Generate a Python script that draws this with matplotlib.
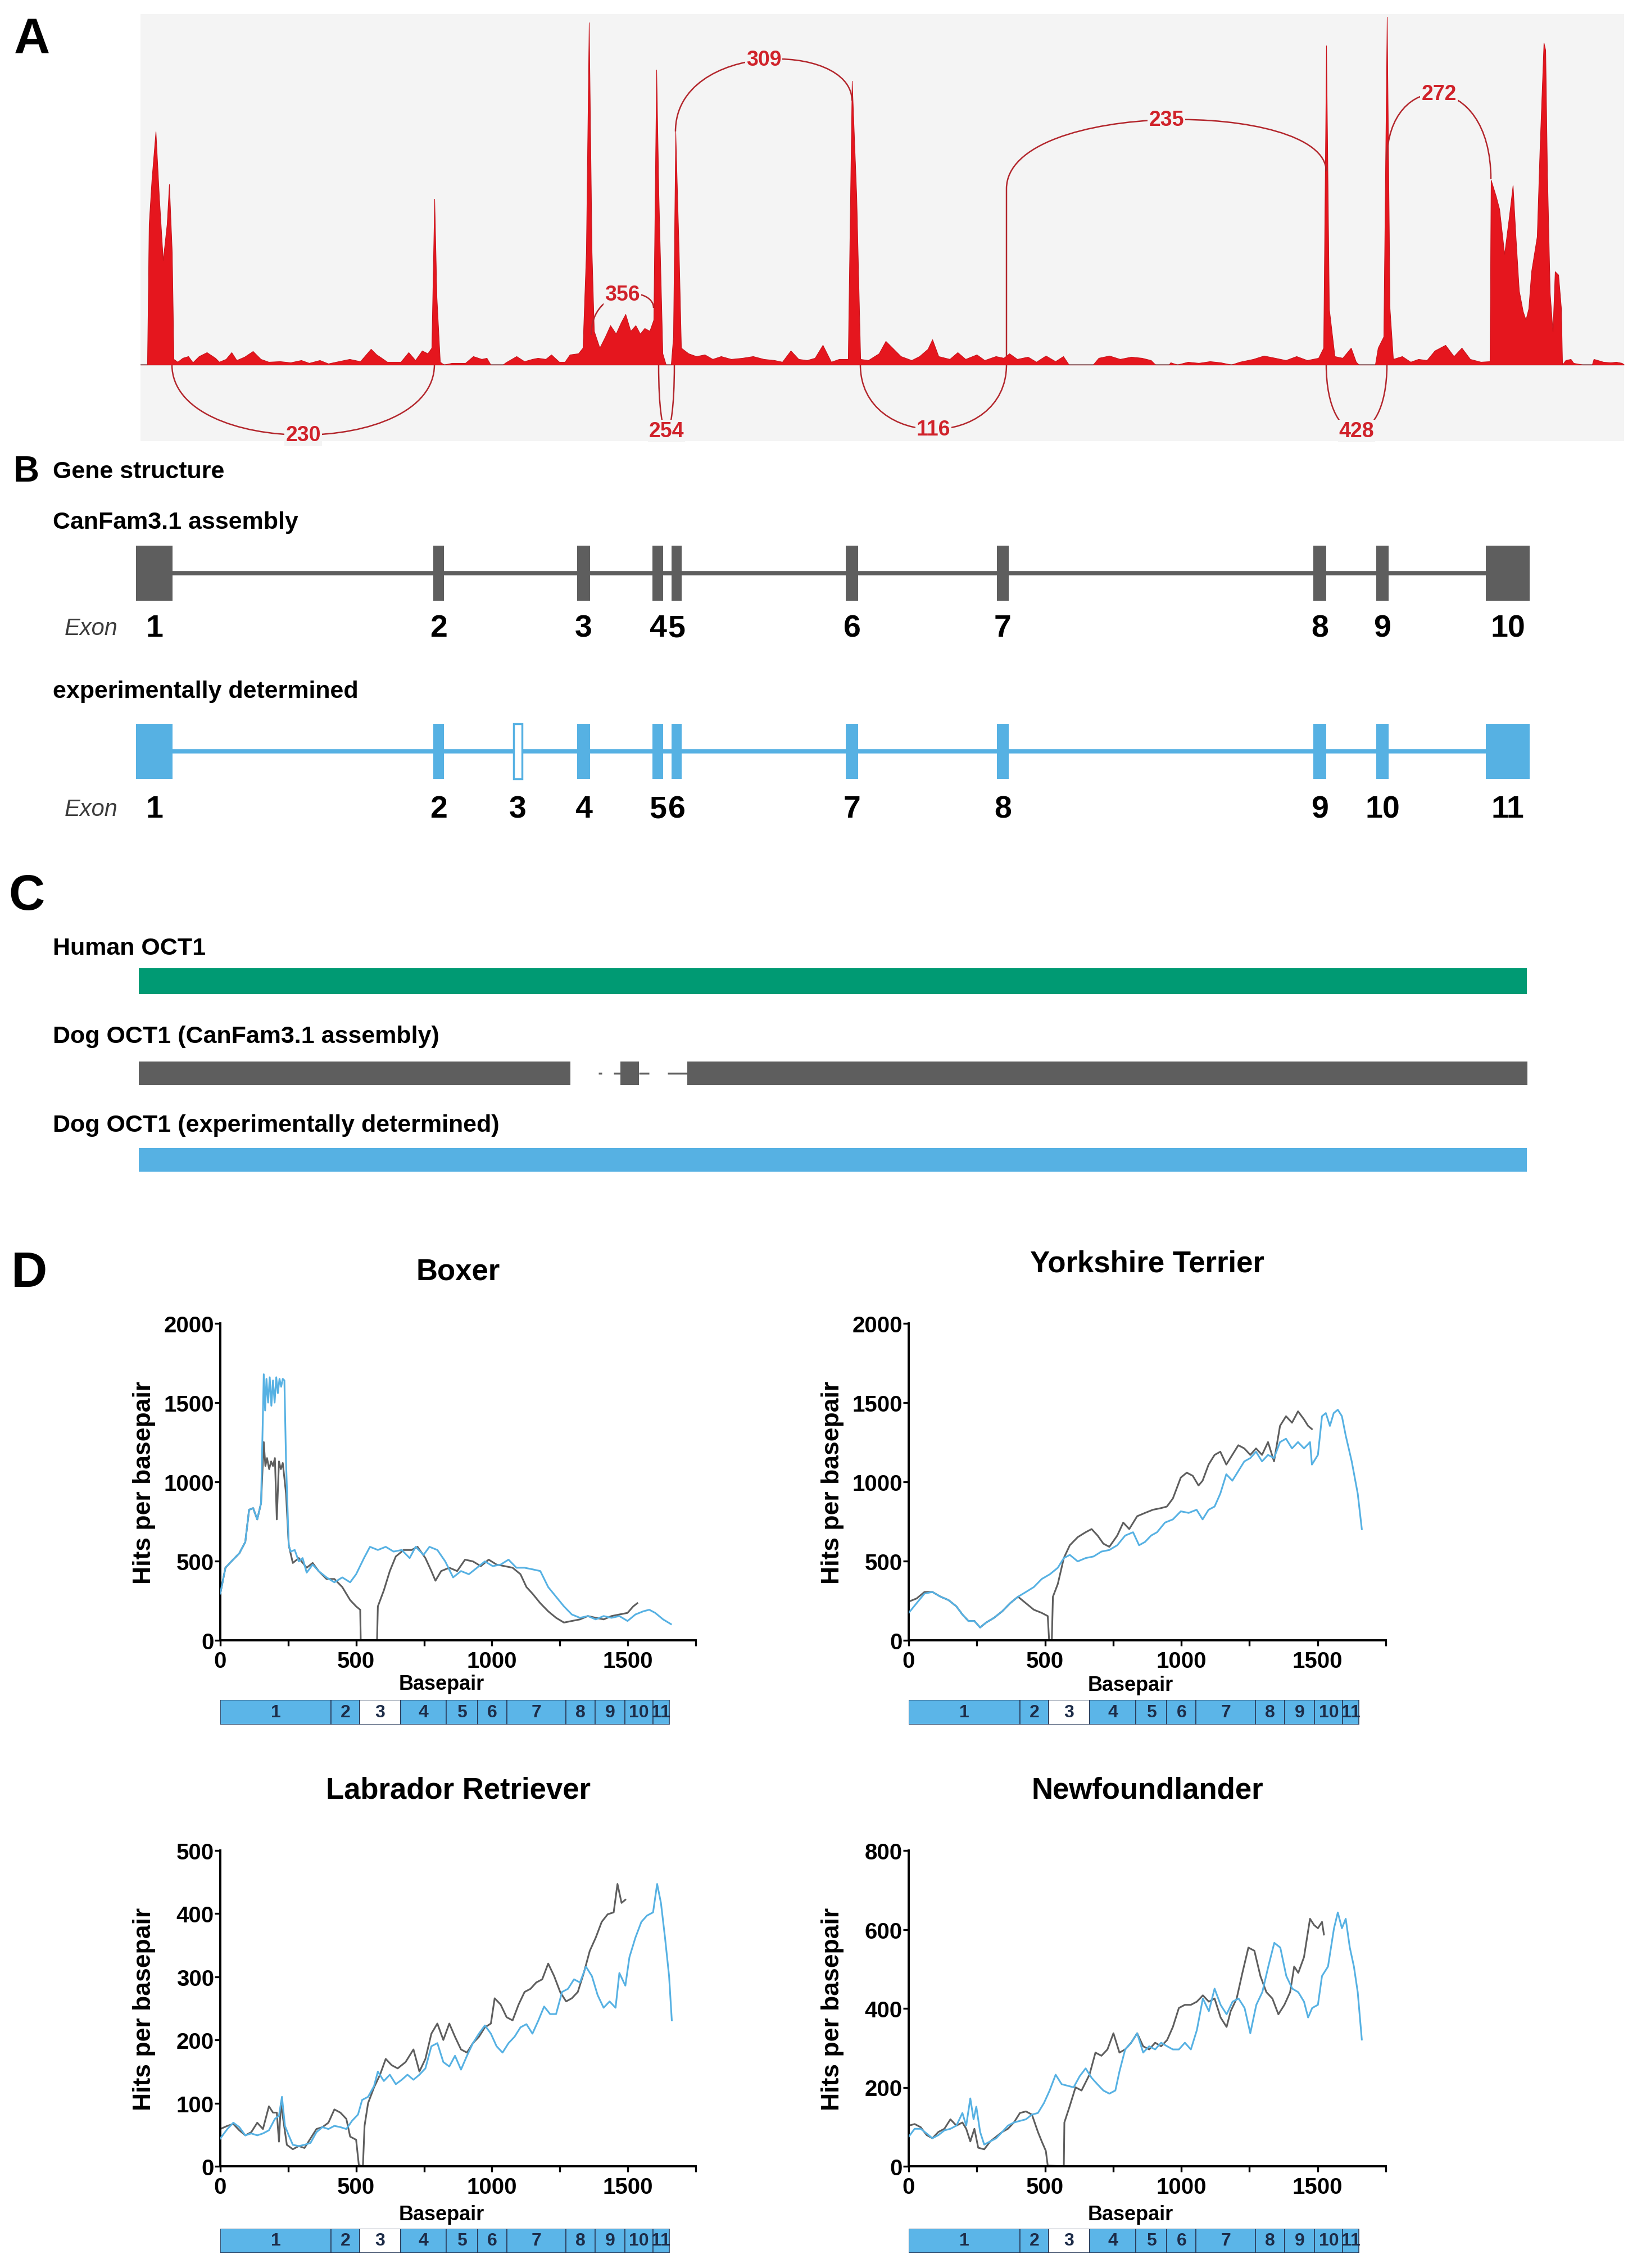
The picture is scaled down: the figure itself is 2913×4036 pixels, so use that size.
import matplotlib
matplotlib.use("Agg")
import matplotlib.pyplot as plt
from matplotlib.path import Path
from matplotlib.patches import PathPatch
from matplotlib.ticker import MultipleLocator
import numpy as np

W, H = 2913, 4037
plt.rcParams['font.family'] = ['Liberation Sans', 'DejaVu Sans']
plt.rcParams['font.weight'] = 'bold'
plt.rcParams['axes.labelweight'] = 'bold'
NARROW = ['Liberation Sans Narrow', 'Liberation Sans', 'DejaVu Sans']

RED = '#e5161e'
ARC = '#b3262c'
GRAY = '#5e5e5e'
BLUE = '#56b1e3'
GREEN = '#009a73'

# ---------------- data ----------------
# A: read coverage along the OCT1 locus (position in plot units, depth in plot units)
cov_pos = [250, 262, 265, 270, 277, 283, 290, 297, 301, 306, 309,
           316, 325, 335, 343, 354, 368, 383, 390, 402, 412, 421, 435, 450, 464, 478, 498,
           517, 536, 550, 569, 584, 598, 622, 641, 660, 670, 679, 689, 713, 727, 739, 751,
           761, 768, 773, 777, 783, 790, 804, 828, 842, 857, 866, 873, 895, 900, 919, 933,
           947, 957, 971, 981, 995, 1005, 1014, 1029, 1037, 1043, 1048, 1053, 1057, 1067,
           1077, 1086, 1096, 1105, 1113, 1122, 1131, 1139, 1147, 1156, 1163, 1168, 1172,
           1179, 1185, 1194, 1198, 1202, 1208, 1212, 1225, 1239, 1254, 1268, 1283, 1301,
           1321, 1340, 1359, 1378, 1392, 1407, 1421, 1436, 1450, 1464, 1479, 1493, 1509,
           1516, 1524, 1531, 1545, 1564, 1576, 1588, 1603, 1622, 1636, 1651, 1659, 1670,
           1690, 1704, 1718, 1738, 1752, 1772, 1786, 1796, 1810, 1829, 1844, 1861, 1878,
           1892, 1902, 1945, 1955, 1974, 1993, 2013, 2032, 2048, 2056, 2080, 2083, 2095,
           2114, 2133, 2153, 2172, 2191, 2206, 2230, 2249, 2269, 2288, 2307, 2326, 2346,
           2355, 2360, 2365, 2375, 2389, 2404, 2413, 2418, 2447, 2452, 2462, 2468, 2473,
           2479, 2495, 2510, 2524, 2539, 2553, 2572, 2587, 2601, 2616, 2635, 2651, 2653,
           2662, 2668, 2677, 2685, 2692, 2697, 2703, 2710, 2715, 2720, 2725, 2735, 2740,
           2747, 2750, 2753, 2758, 2763, 2767, 2773, 2778, 2780, 2786, 2795, 2800, 2816,
           2833, 2836, 2843, 2853, 2866, 2876, 2886, 2890]
cov_depth = [0, 0, 250, 330, 415, 300, 186, 250, 321, 200, 10,
             5, 12, 15, 4, 15, 22, 12, 5, 10, 22, 8, 14, 24, 10, 5, 6,
             4, 8, 3, 8, 2, 5, 10, 6, 28, 18, 12, 5, 5, 22, 8, 25,
             20, 30, 295, 120, 5, 0, 3, 3, 15, 10, 12, 0, 0, 4, 15, 6,
             10, 12, 10, 18, 5, 5, 18, 20, 30, 200, 609, 200, 60, 30,
             50, 70, 55, 75, 90, 60, 70, 55, 65, 60, 80, 525, 300,
             20, 0, 0, 50, 415, 200, 30, 20, 15, 18, 10, 15, 10,
             12, 15, 10, 8, 5, 25, 10, 8, 12, 35, 5, 10, 10,
             505, 300, 10, 8, 20, 42, 30, 15, 8, 15, 28, 45, 15,
             10, 22, 10, 18, 8, 15, 12, 20, 10, 14, 5, 16, 6,
             15, 0, 0, 12, 16, 10, 14, 12, 8, 0, 0, 4, 0,
             5, 3, 6, 4, 0, 5, 10, 16, 12, 8, 15, 8, 12,
             30, 568, 100, 15, 12, 30, 5, 0, 0, 30, 50, 619, 100,
             10, 15, 5, 10, 8, 25, 35, 15, 30, 10, 5, 6, 329,
             300, 277, 197, 260, 319, 230, 132, 95, 80, 100, 166, 228, 384,
             573, 560, 350, 128, 59, 166, 160, 100, 0, 8, 10, 3, 0,
             0, 10, 8, 5, 4, 5, 3, 0]

# A: splice junctions (sashimi arcs)
junc_start = [306, 1052, 1172, 1202, 1531, 1791, 2360, 2468]
junc_end = [773, 1163, 1200, 1516, 1791, 2360, 2468, 2653]
junc_reads = [230, 356, 254, 309, 116, 235, 428, 272]
junc_apex = [-125, 125, -118, 543, -115, 436, -118, 482]
junc_y0 = [0, 53, 0, 415, 0, 313, 0, 364]
junc_y1 = [0, 101, 0, 470, 0, 344, 0, 330]

# B: gene structure (exon start / end along the locus)
canfam_exon_start = [242, 771, 1027, 1161, 1195, 1505, 1774, 2337, 2449, 2644]
canfam_exon_end = [307, 790, 1050, 1180, 1213, 1527, 1795, 2360, 2471, 2722]
exp_exon_start = [242, 771, 914, 1027, 1161, 1195, 1505, 1774, 2337, 2449, 2644]
exp_exon_end = [307, 790, 929, 1050, 1180, 1213, 1527, 1795, 2360, 2471, 2722]
exp_exon_novel = [False, False, True] + [False] * 8

# C: protein alignment
protein_labels = ['Human OCT1', 'Dog OCT1 (CanFam3.1 assembly)',
                  'Dog OCT1 (experimentally determined)']
human_blocks = [(247, 2717)]
canfam_blocks = [(247, 1015), (1104, 1137), (1223, 2718)]
canfam_links = [(1065, 1071), (1092, 1104), (1137, 1155), (1188, 1223)]
exp_blocks = [(247, 2717)]

# D: coverage per basepair, two reference transcripts
breeds = ['Boxer', 'Yorkshire Terrier', 'Labrador Retriever', 'Newfoundlander']
exon_edges_bp = [0, 408, 513, 664, 832, 947, 1054, 1272, 1380, 1489, 1592, 1652]

boxer_blue_bp = [0, 19, 41, 70, 92, 106, 121, 136, 150, 160, 165, 170, 176, 182, 188, 194,
                 200, 206, 212, 218, 224, 230, 236, 242, 252, 259, 274, 289, 303, 318, 340,
                 362, 391, 420, 449, 478, 500, 529, 551, 580, 609, 638, 668, 697, 719, 748,
                 770, 799, 828, 857, 886, 915, 945, 974, 1003, 1032, 1061, 1090, 1120, 1149,
                 1178, 1207, 1236, 1265, 1294, 1324, 1353, 1382, 1411, 1440, 1469, 1499,
                 1528, 1557, 1579, 1601, 1630, 1659]
boxer_blue = [295, 458, 498, 549, 620, 824, 834, 763, 865, 1679, 1450, 1650, 1500, 1660,
              1480, 1640, 1500, 1660, 1560, 1650, 1600, 1650, 1640, 1129, 600, 560, 570, 498,
              519, 427, 478, 437, 397, 366, 397, 366, 417, 519, 590, 570, 590, 560, 570, 519,
              590, 539, 590, 570, 498, 397, 437, 417, 458, 498, 468, 478, 509, 458, 458, 448,
              437, 336, 275, 214, 163, 142, 153, 132, 153, 142, 153, 122, 163, 183, 193, 173,
              132, 102]
boxer_gray_bp = [0, 19, 41, 70, 92, 106, 121, 136, 150, 160, 166, 172, 180, 187, 194, 201,
                 208, 216, 223, 230, 242, 252, 267, 289, 318, 340, 362, 391, 420, 449, 478,
                 500, 515, 517, 577, 580, 602, 624, 646, 675, 704, 726, 755, 777, 792, 813,
                 843, 872, 901, 930, 959, 988, 1017, 1047, 1076, 1105, 1127, 1149, 1178,
                 1207, 1236, 1265, 1294, 1324, 1353, 1382, 1411, 1440, 1469, 1499, 1520, 1535]
boxer_gray = [295, 458, 498, 549, 620, 824, 834, 763, 865, 1251, 1100, 1150, 1080, 1129,
              1100, 1150, 763, 1129, 1080, 1119, 926, 600, 488, 519, 458, 488, 437, 387, 387,
              336, 254, 214, 193, 0, 0, 214, 315, 437, 529, 570, 570, 590, 519, 437, 376, 437,
              458, 437, 509, 498, 468, 509, 478, 468, 458, 417, 336, 295, 234, 183, 142, 112,
              122, 132, 153, 142, 132, 153, 163, 173, 214, 234]

york_blue_bp = [0, 29, 58, 87, 117, 146, 175, 197, 219, 241, 262, 284, 313, 343, 372, 401,
                430, 459, 488, 518, 547, 569, 591, 620, 649, 678, 707, 736, 765, 794, 823,
                845, 867, 889, 911, 940, 969, 998, 1027, 1056, 1078, 1100, 1122, 1143, 1165,
                1187, 1209, 1231, 1253, 1274, 1296, 1318, 1340, 1362, 1384, 1406, 1428, 1450,
                1472, 1479, 1501, 1516, 1530, 1545, 1559, 1574, 1589, 1603, 1625, 1647, 1662]
york_blue = [173, 234, 295, 305, 275, 254, 214, 163, 122, 122, 81, 112, 142, 183, 234, 275,
             305, 336, 387, 417, 458, 519, 539, 498, 519, 529, 560, 570, 600, 661, 682, 600,
             621, 661, 682, 743, 763, 814, 804, 824, 763, 824, 844, 926, 1048, 1007, 1068,
             1129, 1150, 1190, 1129, 1170, 1150, 1251, 1272, 1211, 1251, 1211, 1251, 1109,
             1170, 1414, 1434, 1353, 1434, 1455, 1414, 1292, 1129, 926, 702]
york_gray_bp = [0, 29, 58, 87, 117, 146, 175, 197, 219, 241, 262, 284, 313, 343, 372, 401,
                430, 459, 488, 510, 515, 525, 529, 547, 569, 591, 620, 649, 671, 693, 714,
                736, 765, 787, 809, 838, 867, 896, 925, 947, 969, 998, 1020, 1042, 1063, 1078,
                1100, 1122, 1143, 1165, 1187, 1209, 1231, 1253, 1274, 1296, 1318, 1340, 1362,
                1384, 1406, 1428, 1450, 1465, 1479]
york_gray = [244, 264, 305, 305, 275, 254, 214, 163, 122, 122, 81, 112, 142, 183, 234, 275,
             234, 193, 173, 153, 0, 0, 275, 356, 519, 600, 651, 682, 702, 661, 610, 590, 661,
             743, 702, 783, 804, 824, 834, 844, 895, 1027, 1058, 1038, 977, 1007, 1109, 1170,
             1190, 1109, 1170, 1231, 1211, 1170, 1211, 1170, 1251, 1129, 1353, 1414, 1373,
             1445, 1394, 1353, 1333]

lab_blue_bp = [0, 26, 48, 70, 92, 114, 136, 157, 179, 201, 216, 227, 238, 252, 267, 289, 310,
               332, 354, 376, 398, 420, 442, 464, 485, 507, 522, 544, 566, 580, 602, 624, 646,
               668, 689, 711, 733, 755, 777, 799, 821, 843, 864, 886, 908, 930, 952, 974, 996,
               1017, 1039, 1061, 1083, 1105, 1127, 1149, 1171, 1192, 1214, 1236, 1258, 1280,
               1302, 1324, 1346, 1368, 1389, 1411, 1433, 1455, 1469, 1491, 1506, 1528, 1550,
               1571, 1593, 1608, 1622, 1637, 1652, 1662]
lab_blue = [44, 59, 69, 62, 49, 52, 49, 52, 57, 75, 80, 110, 64, 49, 34, 32, 34, 37, 54, 62,
            59, 64, 62, 59, 72, 82, 105, 110, 127, 150, 135, 145, 130, 137, 145, 137, 145, 155,
            190, 195, 165, 158, 175, 153, 175, 195, 210, 223, 210, 190, 180, 195, 205, 220,
            225, 210, 231, 253, 241, 241, 276, 281, 296, 291, 316, 301, 271, 251, 261, 251,
            306, 286, 331, 362, 387, 397, 402, 447, 417, 362, 301, 231]
lab_gray_bp = [0, 26, 48, 70, 92, 114, 136, 157, 179, 194, 208, 216, 223, 245, 267, 289, 310,
               332, 354, 376, 398, 420, 442, 464, 478, 500, 510, 525, 531, 544, 566, 588, 609,
               631, 653, 682, 711, 733, 755, 777, 799, 821, 843, 864, 886, 908, 930, 952, 974,
               996, 1010, 1032, 1054, 1076, 1098, 1120, 1142, 1163, 1185, 1207, 1229, 1251,
               1273, 1294, 1316, 1338, 1360, 1382, 1404, 1426, 1448, 1462, 1477, 1491]
lab_gray = [59, 64, 67, 57, 49, 54, 69, 59, 95, 85, 85, 39, 100, 34, 27, 32, 29, 44, 59, 62,
            69, 90, 85, 75, 47, 42, 2, 0, 64, 100, 125, 145, 170, 160, 155, 165, 185, 150, 170,
            210, 226, 200, 226, 205, 185, 180, 195, 205, 220, 226, 266, 256, 236, 231, 256, 276,
            281, 291, 296, 321, 301, 276, 261, 266, 276, 306, 341, 362, 387, 399, 402, 447,
            417, 422]

newf_blue_bp = [0, 22, 44, 66, 87, 109, 131, 153, 175, 197, 211, 226, 238, 248, 262, 277, 299,
                321, 343, 364, 386, 408, 430, 452, 474, 496, 517, 539, 561, 583, 605, 627, 649,
                671, 692, 714, 736, 758, 773, 794, 816, 838, 860, 882, 904, 926, 948, 969, 991,
                1013, 1035, 1057, 1079, 1101, 1122, 1144, 1166, 1188, 1210, 1232, 1253, 1275,
                1297, 1319, 1341, 1363, 1385, 1407, 1429, 1450, 1465, 1480, 1501, 1516, 1538,
                1560, 1574, 1589, 1603, 1618, 1633, 1647, 1662]
newf_blue = [75, 95, 95, 83, 71, 79, 91, 95, 103, 135, 103, 172, 119, 151, 87, 55, 63, 71, 87,
             103, 111, 115, 119, 131, 135, 160, 192, 232, 208, 204, 200, 228, 248, 224, 208,
             192, 184, 192, 240, 296, 313, 337, 288, 304, 296, 313, 304, 296, 296, 313, 296,
             345, 425, 393, 450, 409, 385, 417, 425, 401, 337, 409, 441, 506, 566, 554, 482,
             450, 441, 417, 377, 401, 409, 482, 506, 603, 643, 603, 627, 554, 506, 441, 321]
newf_gray_bp = [0, 22, 44, 66, 87, 109, 131, 153, 175, 197, 211, 226, 241, 255, 277, 299, 321,
                343, 364, 386, 408, 430, 452, 474, 488, 503, 510, 569, 571, 590, 612, 634, 663,
                685, 707, 729, 751, 773, 794, 816, 838, 860, 882, 904, 926, 948, 969, 991, 1013,
                1035, 1057, 1079, 1101, 1122, 1144, 1166, 1181, 1203, 1224, 1246, 1268, 1290,
                1312, 1334, 1356, 1378, 1399, 1414, 1429, 1450, 1472, 1487, 1501, 1516, 1523]
newf_gray = [103, 107, 99, 79, 71, 87, 95, 119, 103, 111, 95, 63, 95, 47, 43, 63, 75, 87, 95,
             111, 135, 139, 131, 87, 63, 39, 2, 0, 111, 151, 200, 192, 232, 288, 280, 296, 337,
             288, 296, 313, 337, 304, 296, 313, 304, 320, 353, 401, 409, 409, 417, 433, 417,
             425, 377, 353, 393, 425, 490, 554, 546, 482, 441, 425, 385, 409, 441, 506, 490,
             530, 627, 611, 603, 619, 587]

d_series = [(boxer_gray_bp, boxer_gray, boxer_blue_bp, boxer_blue),
            (york_gray_bp, york_gray, york_blue_bp, york_blue),
            (lab_gray_bp, lab_gray, lab_blue_bp, lab_blue),
            (newf_gray_bp, newf_gray, newf_blue_bp, newf_blue)]
d_ymax = [2000, 2000, 500, 800]
d_ystep = [500, 500, 100, 200]

# ---------------- layout (pixels) ----------------
def px_box(left, top, right, bottom):
    return [left / W, 1 - bottom / H, (right - left) / W, (bottom - top) / H]


fig = plt.figure(figsize=(W / 100, H / 100), dpi=100)
fig.patch.set_facecolor('white')

canvas = fig.add_axes([0, 0, 1, 1])
canvas.set_xlim(0, W)
canvas.set_ylim(H, 0)
canvas.axis('off')

for letter, x, y, size in [('A', 57, 72, 64), ('B', 47, 840, 46), ('C', 47, 1596, 64),
                           ('D', 52, 2267, 64)]:
    canvas.text(x, y, letter, fontsize=size, ha='center', va='center')

# ---------------- panel A ----------------
axA = fig.add_axes(px_box(250, 26, 2890, 786))
axA.set_facecolor('#f4f4f4')
axA.set_xlim(250, 2890)
axA.set_ylim(-136, 624)
for s in axA.spines.values():
    s.set_visible(False)
axA.set_xticks([])
axA.set_yticks([])
axA.axhline(0, color='#8c8c8c', lw=1.6, zorder=1)
axA.fill_between(cov_pos, 0, cov_depth, color=RED, lw=0.8, edgecolor='#c8141c', zorder=2)

for x0, x1, n, apex, y0, y1 in zip(junc_start, junc_end, junc_reads, junc_apex,
                                   junc_y0, junc_y1):
    if apex > 0:
        ctrl = (apex - 0.125 * (y0 + y1)) / 0.75
        verts = [(x0, y0), (x0, ctrl), (x1, ctrl), (x1, y1)]
        codes = [Path.MOVETO, Path.CURVE4, Path.CURVE4, Path.CURVE4]
        foot = np.interp(x0, cov_pos, cov_depth)
        if foot < y0:
            verts = [(x0, foot)] + verts
            codes = [Path.MOVETO, Path.LINETO] + codes[1:]
    else:
        ctrl = apex / 0.75
        verts = [(x0, 0), (x0, ctrl), (x1, ctrl), (x1, 0)]
        codes = [Path.MOVETO, Path.CURVE4, Path.CURVE4, Path.CURVE4]
    axA.add_patch(PathPatch(Path(verts, codes), fill=False, edgecolor=ARC, lw=1.8, zorder=3))
    axA.text((x0 + x1) / 2, apex, str(n), ha='center', va='center', fontsize=27,
             color='#d0222a', zorder=4,
             bbox=dict(boxstyle='square,pad=0.05', fc='#f4f4f4', ec='none'))

# ---------------- panel B ----------------
canvas.text(94, 840, 'Gene structure', fontsize=31, va='center')


def gene_row(starts, ends, novel, color, top, label_y, title, title_y):
    canvas.text(94, title_y, title, fontsize=31, va='center')
    mid = top + 49
    canvas.plot([starts[0], ends[-1]], [mid, mid], color=color, lw=5.5,
                solid_capstyle='butt', zorder=1)
    for i, (s, e, nv) in enumerate(zip(starts, ends, novel)):
        if nv:
            canvas.bar(x=s, height=98, width=e - s, bottom=top, align='edge',
                       color='white', edgecolor=color, lw=2.5, zorder=2)
        else:
            canvas.bar(x=s, height=98, width=e - s, bottom=top, align='edge',
                       color=color, lw=0, zorder=2)
        canvas.text((s + e) / 2, label_y, str(i + 1), fontsize=40, ha='center', va='center')
    canvas.text(162, label_y, 'Exon', fontsize=30, style='italic', fontweight='normal',
                color='#3c3c3c', ha='center', va='center')


gene_row(canfam_exon_start, canfam_exon_end, [False] * len(canfam_exon_start), GRAY,
         972, 1119, 'CanFam3.1 assembly', 930)
gene_row(exp_exon_start, exp_exon_end, exp_exon_novel, BLUE,
         1289, 1441, 'experimentally determined', 1231)

# ---------------- panel C ----------------
rows = [(human_blocks, [], GREEN, 1724, 46, 1688),
        (canfam_blocks, canfam_links, GRAY, 1890, 42, 1845),
        (exp_blocks, [], BLUE, 2044, 42, 2003)]
for label, (blocks, links, color, top, height, ty) in zip(protein_labels, rows):
    canvas.text(94, ty, label, fontsize=31, va='center')
    for s, e in blocks:
        canvas.bar(x=s, height=height, width=e - s, bottom=top, align='edge',
                   color=color, lw=0)
    for s, e in links:
        canvas.plot([s, e], [top + height / 2] * 2, color=color, lw=2.5,
                    solid_capstyle='butt')

# ---------------- panel D ----------------
d_axes = [(392, 2356, 1238, 2920), (1617, 2356, 2466, 2920),
          (392, 3294, 1238, 3856), (1617, 3294, 2466, 3856)]
d_bars = [(3026, 3070), (3026, 3070), (3967, 4010), (3967, 4010)]
d_title_y = [2263, 2249, 3187, 3187]
d_xlabel_y = [2998, 3000, 3942, 3942]

for k in range(4):
    l, t, r, b = d_axes[k]
    gx, gy, bx, by = d_series[k]
    ax = fig.add_axes(px_box(l, t, r, b))
    ax.plot(gx, gy, color=GRAY, lw=2.2, zorder=2)
    ax.plot(bx, by, color=BLUE, lw=2.2, zorder=3)
    ax.set_xlim(0, 1750)
    ax.set_ylim(0, d_ymax[k])
    ax.spines['top'].set_visible(False)
    ax.spines['right'].set_visible(False)
    for side in ('left', 'bottom'):
        ax.spines[side].set_linewidth(2.8)
    ax.xaxis.set_major_locator(MultipleLocator(500))
    ax.xaxis.set_minor_locator(MultipleLocator(250))
    ax.yaxis.set_major_locator(MultipleLocator(d_ystep[k]))
    ax.tick_params(which='both', direction='out', length=7, width=2.4, labelsize=29)
    ax.tick_params(axis='y', pad=1)
    ax.tick_params(axis='x', pad=6)
    ax.set_ylabel('Hits per basepair', fontsize=32, fontweight='bold', va='center')
    ax.yaxis.set_label_coords(-0.16, 0.5)
    ax.set_xlabel('Basepair', fontsize=26, fontweight='bold', va='center')
    ax.xaxis.set_label_coords(0.465, (b - d_xlabel_y[k]) / (b - t))
    canvas.text((l + r) / 2, d_title_y[k], breeds[k], fontsize=38, ha='center', va='center')

    bt, bb = d_bars[k]
    bar_ax = fig.add_axes(px_box(l, bt, r, bb))
    bar_ax.set_xlim(0, 1750)
    bar_ax.set_ylim(0, 1)
    bar_ax.axis('off')
    starts = exon_edges_bp[:-1]
    widths = np.diff(exon_edges_bp)
    colors = ['white' if i == 2 else '#5bb5e8' for i in range(len(starts))]
    bar_ax.bar(x=starts, height=1, width=widths, bottom=0, align='edge', color=colors,
               edgecolor='#2b3d5c', lw=1.2)
    for i, (s, w) in enumerate(zip(starts, widths)):
        bar_ax.text(s + w / 2, 0.5, str(i + 1), ha='center', va='center', fontsize=23,
                    family=NARROW, color='#1d2c48')

fig.savefig('out.png', dpi=100, facecolor='white')
